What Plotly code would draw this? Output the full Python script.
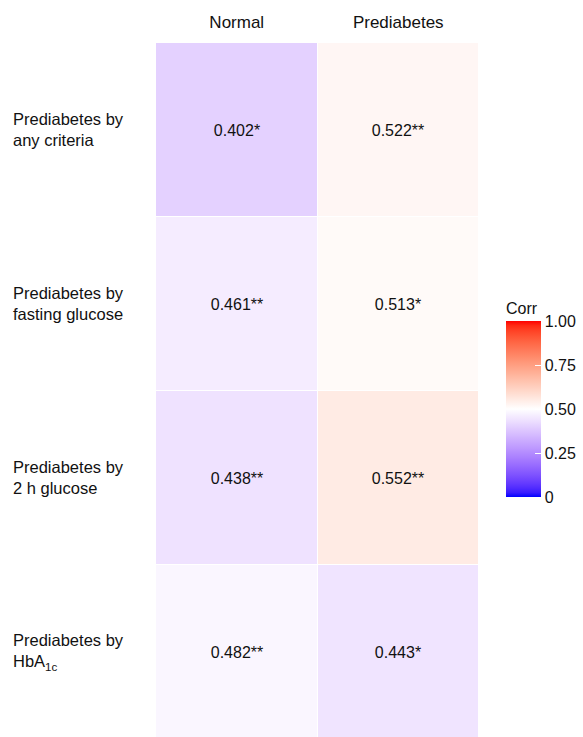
import plotly.graph_objects as go

# Correlation heatmap: criteria (rows) x glucose status (columns)
columns = ["Normal", "Prediabetes"]
rows = ["any criteria", "fasting glucose", "2 h glucose", "HbA1c"]
row_labels = [
    "Prediabetes by<br>any criteria",
    "Prediabetes by<br>fasting glucose",
    "Prediabetes by<br>2 h glucose",
    "Prediabetes by<br>HbA<sub>1c</sub>",
]
corr_normal = [0.402, 0.461, 0.438, 0.482]
corr_prediabetes = [0.522, 0.513, 0.552, 0.443]
stars_normal = ["*", "**", "**", "**"]
stars_prediabetes = ["**", "*", "**", "*"]
cbar_ticks = [0, 0.25, 0.5, 0.75, 1.0]
cbar_ticktext = ["0", "0.25", "0.50", "0.75", "1.00"]

FONT = "Liberation Sans, Arial, Helvetica, sans-serif"


# --- diverging blue-white-red scale interpolated in CIE Lab ---
def _lin(c):
    c /= 255.0
    return c / 12.92 if c <= 0.04045 else ((c + 0.055) / 1.055) ** 2.4


def _gam(c):
    c = 12.92 * c if c <= 0.0031308 else 1.055 * c ** (1 / 2.4) - 0.055
    return max(0, min(255, round(c * 255)))


WHITE = (0.95047, 1.0, 1.08883)


def rgb_to_lab(rgb):
    r, g, b = (_lin(float(v)) for v in rgb)
    x = 0.4124 * r + 0.3576 * g + 0.1805 * b
    y = 0.2126 * r + 0.7152 * g + 0.0722 * b
    z = 0.0193 * r + 0.1192 * g + 0.9505 * b

    def f(t):
        return t ** (1 / 3) if t > 0.008856 else 7.787 * t + 16 / 116

    fx, fy, fz = f(x / WHITE[0]), f(y / WHITE[1]), f(z / WHITE[2])
    return (116 * fy - 16, 500 * (fx - fy), 200 * (fy - fz))


def lab_to_rgb(lab):
    L, a, b = lab
    fy = (L + 16) / 116
    fx = fy + a / 500
    fz = fy - b / 200

    def finv(t):
        return t ** 3 if t ** 3 > 0.008856 else (t - 16 / 116) / 7.787

    x, y, z = finv(fx) * WHITE[0], finv(fy) * WHITE[1], finv(fz) * WHITE[2]
    r = 3.2406 * x - 1.5372 * y - 0.4986 * z
    g = -0.9689 * x + 1.8758 * y + 0.0415 * z
    bb = 0.0557 * x - 0.2040 * y + 1.0570 * z
    return (_gam(r), _gam(g), _gam(bb))


low, mid, high = rgb_to_lab((0, 0, 255)), rgb_to_lab((255, 255, 255)), rgb_to_lab((255, 0, 0))
colorscale = []
n = 40
for i in range(n + 1):
    t = i / n
    if t <= 0.5:
        s = t / 0.5
        lab = tuple(low[k] + (mid[k] - low[k]) * s for k in range(3))
    else:
        s = (t - 0.5) / 0.5
        lab = tuple(mid[k] + (high[k] - mid[k]) * s for k in range(3))
    r, g, b = lab_to_rgb(lab)
    colorscale.append([t, f"rgb({r},{g},{b})"])

z = [[a, b] for a, b in zip(corr_normal, corr_prediabetes)]
text = [
    [f"{a:.3f}{sa}", f"{b:.3f}{sb}"]
    for a, b, sa, sb in zip(corr_normal, corr_prediabetes, stars_normal, stars_prediabetes)
]

fig = go.Figure(
    go.Heatmap(
        z=z,
        x=columns,
        y=rows,
        text=text,
        texttemplate="%{text}",
        textfont=dict(family=FONT, size=16, color="#111111"),
        colorscale=colorscale,
        zmin=0,
        zmax=1,
        xgap=1,
        ygap=1,
        hoverinfo="skip",
        colorbar=dict(
            title=dict(text="Corr", side="top", font=dict(family=FONT, size=16, color="#111111")),
            tickvals=cbar_ticks,
            ticktext=cbar_ticktext,
            tickfont=dict(family=FONT, size=16, color="#111111"),
            ticks="inside",
            ticklen=6,
            tickcolor="white",
            tickwidth=1,
            outlinewidth=0,
            thickness=35,
            thicknessmode="pixels",
            len=198,
            lenmode="pixels",
            x=1.0836,
            xanchor="left",
            y=0.3458,
            yanchor="bottom",
            ypad=0,
            xpad=0,
        ),
    )
)

# left-aligned row labels
for r, lab in zip(rows, row_labels):
    fig.add_annotation(
        x=0,
        xref="paper",
        xshift=-145,
        y=r,
        yref="y",
        text=lab,
        showarrow=False,
        xanchor="left",
        yanchor="middle",
        align="left",
        font=dict(family=FONT, size=16.5, color="#111111"),
    )

fig.update_xaxes(
    side="top",
    showgrid=False,
    zeroline=False,
    showline=False,
    ticks="",
    tickfont=dict(family=FONT, size=17, color="#111111"),
    ticklabelstandoff=11,
)
fig.update_yaxes(
    showgrid=False,
    zeroline=False,
    showline=False,
    showticklabels=False,
    range=[3.489, -0.5],
)

fig.update_layout(
    width=583,
    height=737,
    margin=dict(l=156, r=104, t=43, b=0),
    paper_bgcolor="white",
    plot_bgcolor="white",
)

fig.write_html("out.html")
